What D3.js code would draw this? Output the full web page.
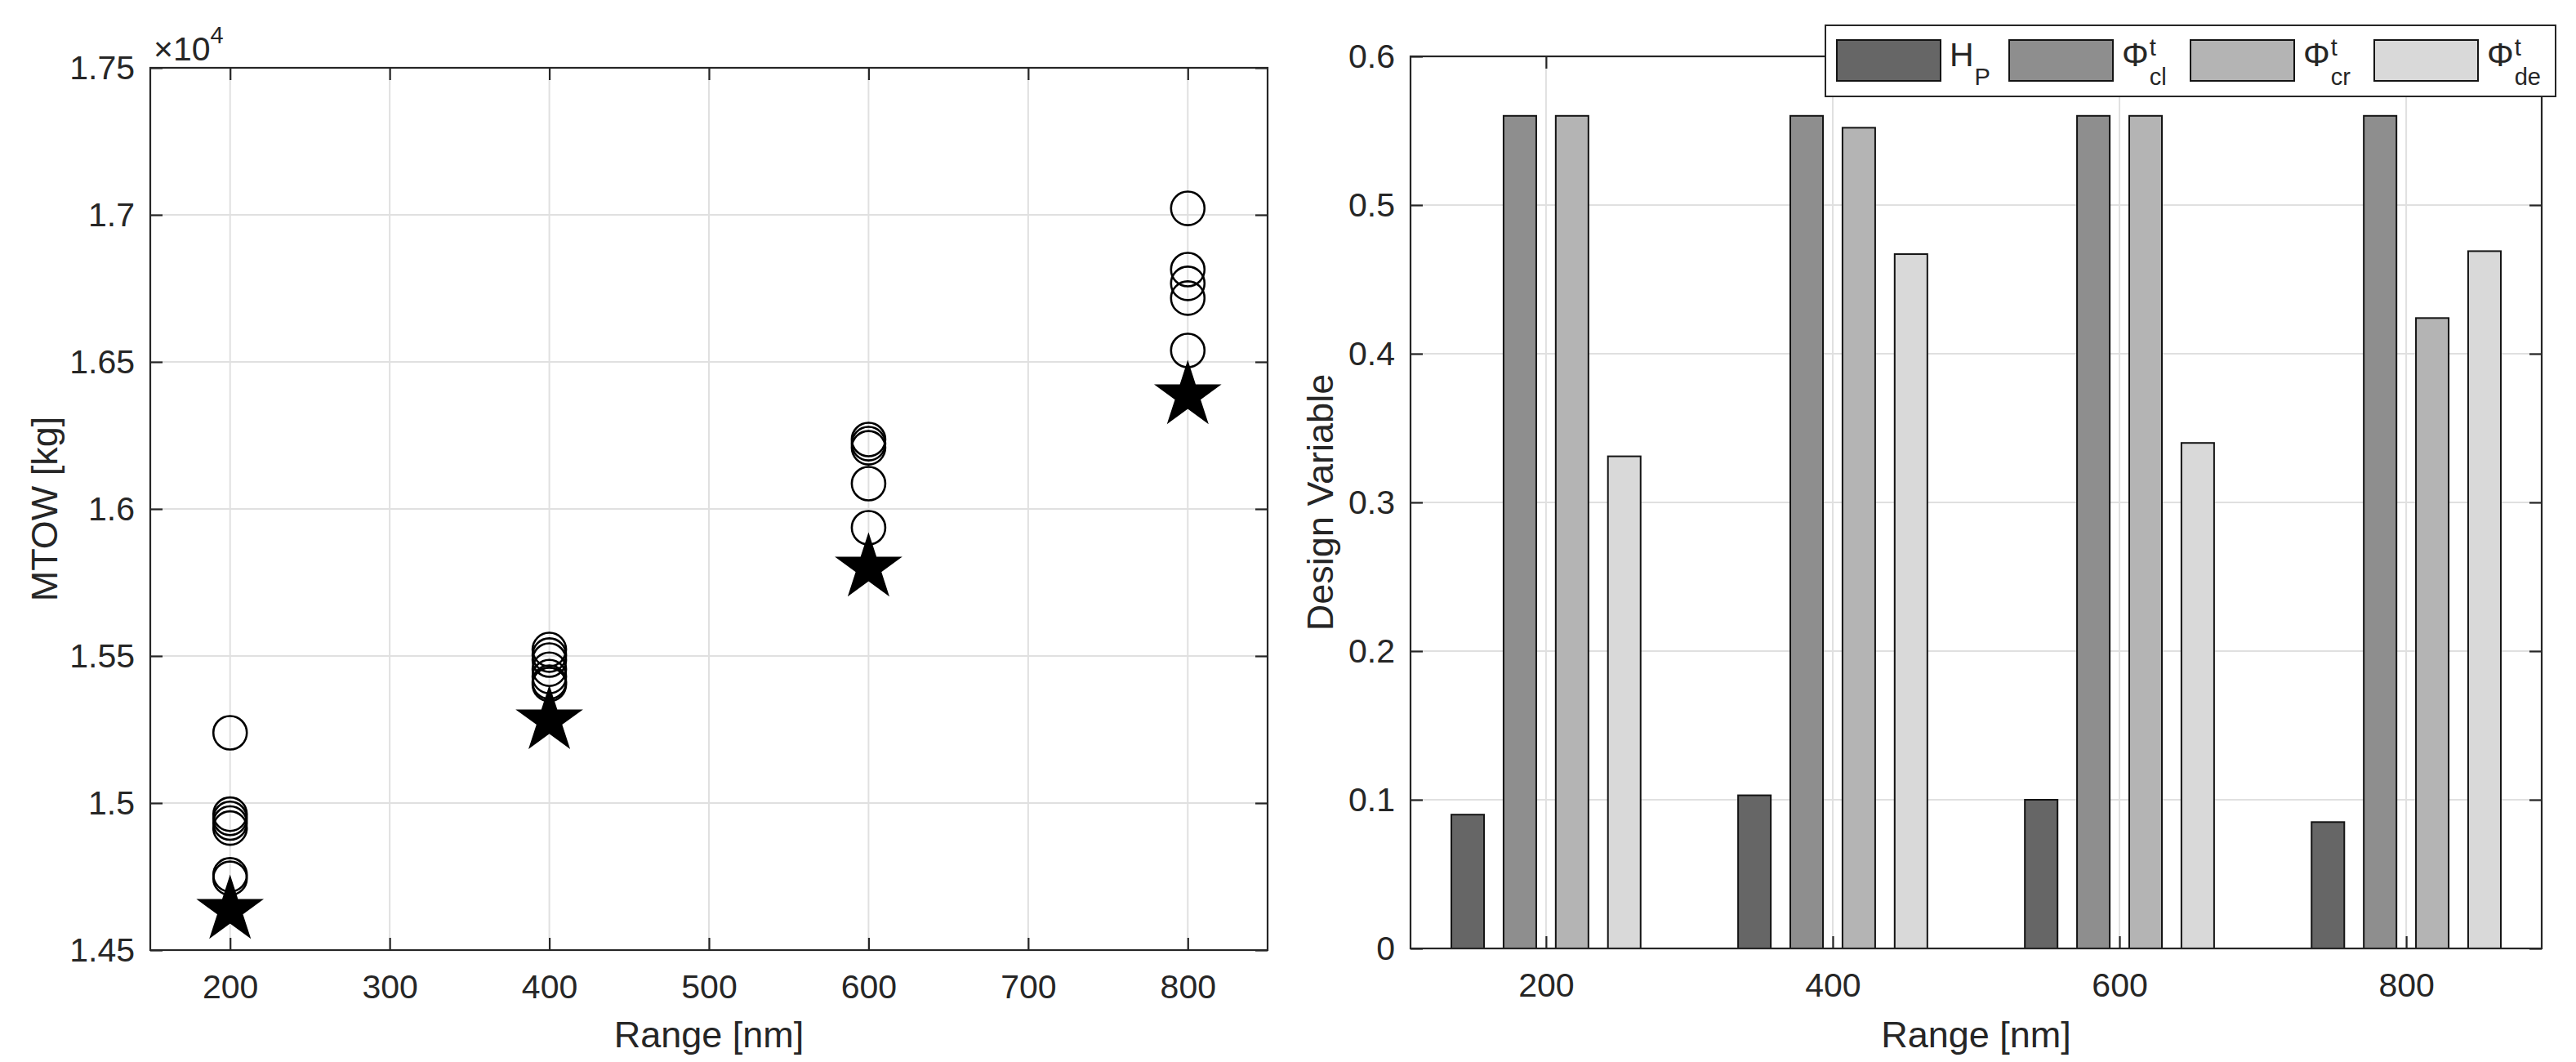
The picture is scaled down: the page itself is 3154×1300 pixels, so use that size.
<!DOCTYPE html>
<html>
<head>
<meta charset="utf-8">
<script src="https://cdn.jsdelivr.net/npm/d3@7/dist/d3.min.js"></script>
<style>
  html, body { margin: 0; padding: 0; background: #fff; }
  svg { display: block; font-family: 'Liberation Sans', Arial, Helvetica, sans-serif; }
</style>
</head>
<body>
<script>
// ---------------- DATA ----------------
const ranges = [200, 400, 600, 800];

// MTOW of candidate solutions (kg), one array per range (open circles)
const mtow200 = [15239, 14962, 14948, 14932, 14915, 14756, 14744];
const mtow400 = [15522, 15503, 15486, 15455, 15430, 15411, 15403];
const mtow600 = [16236, 16222, 16208, 16086, 15936];
const mtow800 = [17022, 16814, 16767, 16717, 16539];
// best (star) solution per range
const mtowBest = [14636, 15281, 15800, 16386];

const leftXTicks = [200, 300, 400, 500, 600, 700, 800];
const leftYTicks = [14500, 15000, 15500, 16000, 16500, 17000, 17500];
const leftYTickLabels = ["1.45", "1.5", "1.55", "1.6", "1.65", "1.7", "1.75"];

// Design variables per range
const seriesKeys = ["HP", "PhiCl", "PhiCr", "PhiDe"];
const HP    = [0.090, 0.103, 0.100, 0.085];
const PhiCl = [0.560, 0.560, 0.560, 0.560];
const PhiCr = [0.560, 0.552, 0.560, 0.424];
const PhiDe = [0.331, 0.467, 0.340, 0.469];

const rightXTicks = [200, 400, 600, 800];
const rightYTicks = [0, 0.1, 0.2, 0.3, 0.4, 0.5, 0.6];
const rightYTickLabels = ["0", "0.1", "0.2", "0.3", "0.4", "0.5", "0.6"];

// ---------------- STYLE ----------------
const seriesFill = ["#666666", "#8e8e8e", "#b4b4b4", "#d9d9d9"];
const axisColor = "#262626";
const gridColor = "#e0e0e0";
const tickFont = 41, labelFont = 45;

const W = 3154, H = 1300;
const svg = d3.select("body").append("svg").attr("width", W).attr("height", H);
svg.append("rect").attr("width", W).attr("height", H).attr("fill", "#fff");

function styleAxis(g) {
  g.select(".domain").remove();
  g.selectAll(".tick line").attr("stroke", axisColor).attr("stroke-width", 2.2);
  g.selectAll(".tick text").attr("fill", axisColor).attr("font-size", tickFont)
    .attr("font-family", "'Liberation Sans', Arial, sans-serif");
}

function drawFrame(x, y, xTicks, yTicks, yTickLabels, xFmt) {
  const [x0, x1] = x.range(), [y0, y1] = y.range(); // y0 bottom, y1 top
  const grid = svg.append("g");
  grid.selectAll("line.vx").data(xTicks).join("line")
    .attr("x1", d => x(d)).attr("x2", d => x(d)).attr("y1", y1).attr("y2", y0)
    .attr("stroke", gridColor).attr("stroke-width", 2);
  grid.selectAll("line.hy").data(yTicks).join("line")
    .attr("x1", x0).attr("x2", x1).attr("y1", d => y(d)).attr("y2", d => y(d))
    .attr("stroke", gridColor).attr("stroke-width", 2);
  return grid;
}

function drawAxes(x, y, xTicks, yTicks, yTickLabels, xFmt) {
  const [x0, x1] = x.range(), [y0, y1] = y.range();
  const ax = svg.append("g");
  ax.append("g").attr("transform", `translate(0,${y0})`)
    .call(d3.axisBottom(x).tickValues(xTicks).tickSizeInner(-15).tickSizeOuter(0)
      .tickPadding(30).tickFormat(xFmt)).call(styleAxis);
  ax.append("g").attr("transform", `translate(0,${y1})`)
    .call(d3.axisTop(x).tickValues(xTicks).tickSizeInner(-15).tickSizeOuter(0).tickFormat(""))
    .call(styleAxis);
  ax.append("g").attr("transform", `translate(${x0},0)`)
    .call(d3.axisLeft(y).tickValues(yTicks).tickSizeInner(-15).tickSizeOuter(0)
      .tickPadding(19).tickFormat((d, i) => yTickLabels[i])).call(styleAxis);
  ax.append("g").attr("transform", `translate(${x1},0)`)
    .call(d3.axisRight(y).tickValues(yTicks).tickSizeInner(-15).tickSizeOuter(0).tickFormat(""))
    .call(styleAxis);
  ax.append("rect").attr("x", x0).attr("y", y1).attr("width", x1 - x0).attr("height", y0 - y1)
    .attr("fill", "none").attr("stroke", axisColor).attr("stroke-width", 2.2);
  return ax;
}

// ---------------- LEFT: MTOW scatter ----------------
const xL = d3.scaleLinear().domain([150, 850]).range([184, 1552]);
const yL = d3.scaleLinear().domain([14500, 17500]).range([1163, 83]);
drawFrame(xL, yL, leftXTicks, leftYTicks);

const circleSets = [mtow200, mtow400, mtow600, mtow800];
const circlePts = [];
circleSets.forEach((arr, i) => arr.forEach(v => circlePts.push({ r: ranges[i], v })));

const circleSym = d3.symbol().type(d3.symbolCircle).size(Math.PI * 20.5 * 20.5);
const starSym = d3.symbol().type(d3.symbolStar).size(1890);

svg.append("g").selectAll("path").data(circlePts).join("path")
  .attr("d", circleSym)
  .attr("transform", d => `translate(${xL(d.r)},${yL(d.v)})`)
  .attr("fill", "none").attr("stroke", "#000").attr("stroke-width", 2.6);

svg.append("g").selectAll("path").data(mtowBest).join("path")
  .attr("d", starSym)
  .attr("transform", (d, i) => `translate(${xL(ranges[i])},${yL(d)})`)
  .attr("fill", "#000").attr("stroke", "#000").attr("stroke-width", 1.5);

drawAxes(xL, yL, leftXTicks, leftYTicks, leftYTickLabels, d => d);

// exponent label
const expT = svg.append("text").attr("x", 188).attr("y", 74).attr("fill", axisColor)
  .attr("font-size", tickFont);
expT.append("tspan").text("×10");
expT.append("tspan").attr("font-size", 29).attr("dy", -21).text("4");

svg.append("text").attr("x", (184 + 1552) / 2).attr("y", 1282).attr("text-anchor", "middle")
  .attr("font-size", labelFont).attr("fill", axisColor).text("Range [nm]");
svg.append("text").attr("transform", "translate(70,623) rotate(-90)").attr("text-anchor", "middle")
  .attr("font-size", labelFont).attr("fill", axisColor).text("MTOW [kg]");

// ---------------- RIGHT: design variable bars ----------------
const xR = d3.scaleLinear().domain([105.5, 894.5]).range([1727, 3112]);
const yR = d3.scaleLinear().domain([0, 0.6]).range([1161, 69]);
drawFrame(xR, yR, rightXTicks, rightYTicks);

const seriesVals = [HP, PhiCl, PhiCr, PhiDe];
const slotUnits = 36.4, barUnits = 22.8;
const bw = xR(barUnits) - xR(0);
const barData = [];
seriesVals.forEach((vals, si) => vals.forEach((v, j) =>
  barData.push({ si, r: ranges[j], v })));

svg.append("g").selectAll("rect").data(barData).join("rect")
  .attr("x", d => xR(d.r + (d.si - 1.5) * slotUnits) - bw / 2)
  .attr("width", bw)
  .attr("y", d => yR(d.v))
  .attr("height", d => yR(0) - yR(d.v))
  .attr("fill", d => seriesFill[d.si])
  .attr("stroke", "#141414").attr("stroke-width", 2);

drawAxes(xR, yR, rightXTicks, rightYTicks, rightYTickLabels, d => d);

svg.append("text").attr("x", (1727 + 3112) / 2).attr("y", 1282).attr("text-anchor", "middle")
  .attr("font-size", labelFont).attr("fill", axisColor).text("Range [nm]");
svg.append("text").attr("transform", "translate(1632,615) rotate(-90)").attr("text-anchor", "middle")
  .attr("font-size", labelFont).attr("fill", axisColor).text("Design Variable");

// ---------------- LEGEND ----------------
const legendMain = ["H", "Φ", "Φ", "Φ"];
const legendSup = ["", "t", "t", "t"];
const legendSub = ["P", "cl", "cr", "de"];
const legendX = [2249, 2460, 2682, 2907];

const lg = svg.append("g");
lg.append("rect").attr("x", 2235).attr("y", 31).attr("width", 894).attr("height", 87)
  .attr("fill", "#fff").attr("stroke", axisColor).attr("stroke-width", 2);
seriesKeys.forEach((k, i) => {
  const x0 = legendX[i];
  lg.append("rect").attr("x", x0).attr("y", 49).attr("width", 127).attr("height", 50)
    .attr("fill", seriesFill[i]).attr("stroke", "#141414").attr("stroke-width", 2);
  const m = lg.append("text").attr("x", x0 + 138).attr("y", 81).attr("font-size", tickFont)
    .attr("fill", axisColor).text(legendMain[i]);
  const mw = m.node().getComputedTextLength();
  if (legendSup[i]) {
    lg.append("text").attr("x", x0 + 138 + mw + 1).attr("y", 68).attr("font-size", 29)
      .attr("fill", axisColor).text(legendSup[i]);
  }
  lg.append("text").attr("x", x0 + 138 + mw + 1).attr("y", 104).attr("font-size", 29)
    .attr("fill", axisColor).text(legendSub[i]);
});
</script>
</body>
</html>
